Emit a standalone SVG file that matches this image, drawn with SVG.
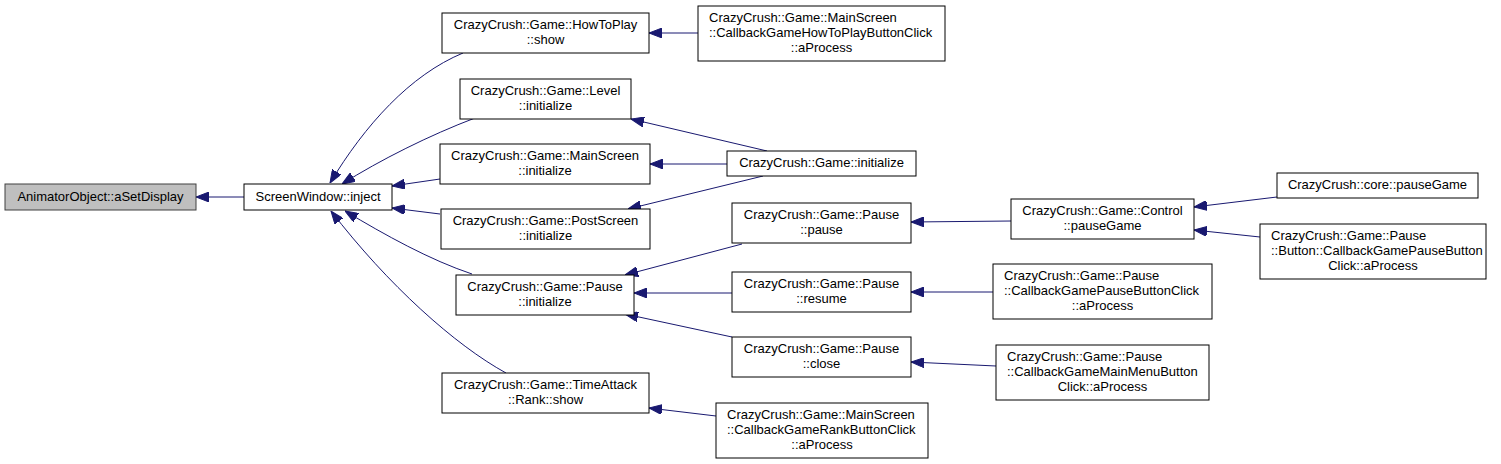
<svg xmlns="http://www.w3.org/2000/svg" width="1501" height="464" viewBox="0 0 1501 464">
<style>
.n rect{fill:#fff;stroke:#000;stroke-width:1}
.n rect.root{fill:#bfbfbf;stroke:#404040}
.n text{font-family:"Liberation Sans",Arial,sans-serif;font-size:13px;fill:#000}
.m{text-anchor:middle}
.e path{fill:none;stroke:#191970;stroke-width:1;marker-end:url(#ah)}
</style>
<defs>
<marker id="ah" markerUnits="userSpaceOnUse" markerWidth="13" markerHeight="10" viewBox="0 0 13 10" refX="13" refY="5" orient="auto">
<path d="M0,0 L13,5 L0,10 z" fill="#191970" stroke="#191970" stroke-width="1"/>
</marker>
</defs>
<rect width="1501" height="464" fill="#fff"/>
<g id="edges" class="e">
<path d="M244,197 L196,197"/>
<path d="M463,53 C410,75 365,125 330,183"/>
<path d="M475,118 C430,135 380,160 342,184"/>
<path d="M440,179 L392,186"/>
<path d="M440,214 L392,208"/>
<path d="M472,274 C430,260 385,235 345,211"/>
<path d="M506,373 C455,345 388,285 331,211"/>
<path d="M698,33 L649,33"/>
<path d="M767,151 L631,119"/>
<path d="M727,164 L650,164"/>
<path d="M763,176 L628,209"/>
<path d="M1011,221 L911,222"/>
<path d="M742,244 L625,275"/>
<path d="M732,293 L634,293"/>
<path d="M732,337 L625,314"/>
<path d="M716,416 L649,408"/>
<path d="M1277,197 L1194,207"/>
<path d="M1260,237 L1194,230"/>
<path d="M993,292 L911,292"/>
<path d="M996,366 L911,362"/>
</g>
<g id="n_animator" class="n"><rect class="root" x="5" y="184" width="191" height="26"/><text class="m" x="100.5" y="201">AnimatorObject::aSetDisplay</text></g>
<g id="n_inject" class="n"><rect x="244" y="184" width="148" height="26"/><text class="m" x="318" y="201">ScreenWindow::inject</text></g>
<g id="n_howtoplay" class="n"><rect x="442" y="13" width="207" height="40"/><text class="m" x="545.5" y="29">CrazyCrush::Game::HowToPlay</text><text class="m" x="545.5" y="44">::show</text></g>
<g id="n_cb_howtoplay" class="n"><rect x="698" y="6" width="247" height="55"/><text x="709" y="22">CrazyCrush::Game::MainScreen</text><text x="709" y="37">::CallbackGameHowToPlayButtonClick</text><text class="m" x="821.5" y="52">::aProcess</text></g>
<g id="n_level" class="n"><rect x="460" y="79" width="171" height="40"/><text class="m" x="545.5" y="95">CrazyCrush::Game::Level</text><text class="m" x="545.5" y="110">::initialize</text></g>
<g id="n_mainscreen" class="n"><rect x="440" y="144" width="210" height="40"/><text class="m" x="545" y="160">CrazyCrush::Game::MainScreen</text><text class="m" x="545" y="175">::initialize</text></g>
<g id="n_game_init" class="n"><rect x="727" y="151" width="189" height="25"/><text class="m" x="821.5" y="167">CrazyCrush::Game::initialize</text></g>
<g id="n_postscreen" class="n"><rect x="441" y="209" width="209" height="40"/><text class="m" x="545.5" y="225">CrazyCrush::Game::PostScreen</text><text class="m" x="545.5" y="240">::initialize</text></g>
<g id="n_pause_init" class="n"><rect x="456" y="275" width="178" height="40"/><text class="m" x="545" y="291">CrazyCrush::Game::Pause</text><text class="m" x="545" y="306">::initialize</text></g>
<g id="n_rank" class="n"><rect x="442" y="373" width="207" height="40"/><text class="m" x="545.5" y="389">CrazyCrush::Game::TimeAttack</text><text class="m" x="545.5" y="404">::Rank::show</text></g>
<g id="n_pause_pause" class="n"><rect x="732" y="203" width="179" height="40"/><text class="m" x="821.5" y="219">CrazyCrush::Game::Pause</text><text class="m" x="821.5" y="234">::pause</text></g>
<g id="n_pause_resume" class="n"><rect x="732" y="272" width="179" height="40"/><text class="m" x="821.5" y="288">CrazyCrush::Game::Pause</text><text class="m" x="821.5" y="303">::resume</text></g>
<g id="n_pause_close" class="n"><rect x="732" y="337" width="179" height="40"/><text class="m" x="821.5" y="353">CrazyCrush::Game::Pause</text><text class="m" x="821.5" y="368">::close</text></g>
<g id="n_cb_rank" class="n"><rect x="716" y="403" width="212" height="55"/><text x="727" y="419">CrazyCrush::Game::MainScreen</text><text x="727" y="434">::CallbackGameRankButtonClick</text><text class="m" x="822" y="449">::aProcess</text></g>
<g id="n_control" class="n"><rect x="1011" y="199" width="183" height="40"/><text class="m" x="1102.5" y="215">CrazyCrush::Game::Control</text><text class="m" x="1102.5" y="230">::pauseGame</text></g>
<g id="n_cb_pausebtn" class="n"><rect x="993" y="264" width="219" height="55"/><text x="1004" y="280">CrazyCrush::Game::Pause</text><text x="1004" y="295">::CallbackGamePauseButtonClick</text><text class="m" x="1102.5" y="310">::aProcess</text></g>
<g id="n_cb_mainmenu" class="n"><rect x="996" y="345" width="213" height="55"/><text x="1007" y="361">CrazyCrush::Game::Pause</text><text x="1007" y="376">::CallbackGameMainMenuButton</text><text class="m" x="1102.5" y="391">Click::aProcess</text></g>
<g id="n_core_pause" class="n"><rect x="1277" y="173" width="201" height="25"/><text class="m" x="1377.5" y="189">CrazyCrush::core::pauseGame</text></g>
<g id="n_cb_button" class="n"><rect x="1260" y="224" width="226" height="55"/><text x="1271" y="240">CrazyCrush::Game::Pause</text><text x="1271" y="255">::Button::CallbackGamePauseButton</text><text class="m" x="1373" y="270">Click::aProcess</text></g>
</svg>
